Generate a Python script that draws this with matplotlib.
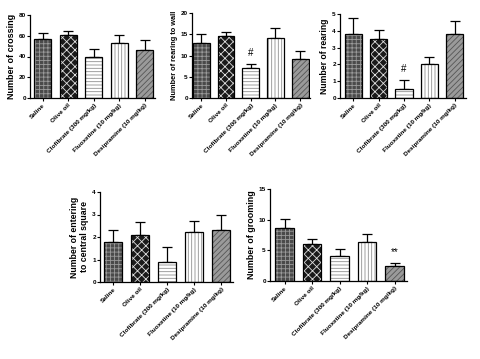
import matplotlib
matplotlib.use("Agg")
import matplotlib.pyplot as plt

plt.rcParams['font.family'] = ['Liberation Sans', 'DejaVu Sans']
plt.rcParams['font.weight'] = 'bold'
plt.rcParams['hatch.linewidth'] = 0.6

groups = ["Saline", "Olive oil", "Clofibrate (300 mg/kg)", "Fluoxetine (10 mg/kg)", "Desipramine (10 mg/kg)"]

crossing_mean = [57, 60.5, 40, 53, 46]
crossing_sem = [6, 4.5, 7.5, 7.5, 10]
rear_wall_mean = [13, 14.7, 7, 14.2, 9.2]
rear_wall_sem = [2.1, 0.9, 1.1, 2.2, 1.9]
rearing_mean = [3.8, 3.5, 0.55, 2.0, 3.8]
rearing_sem = [0.95, 0.55, 0.55, 0.45, 0.8]
central_mean = [1.78, 2.1, 0.9, 2.22, 2.33]
central_sem = [0.55, 0.55, 0.67, 0.51, 0.64]
grooming_mean = [8.6, 6.1, 4.1, 6.3, 2.4]
grooming_sem = [1.5, 0.7, 1.1, 1.3, 0.6]

styles = [
    dict(face='#4a4a4a', hatch='++++', hc='#9a9a9a'),
    dict(face='#1a1a1a', hatch='xxxx', hc='#e0e0e0'),
    dict(face='#ffffff', hatch='-----', hc='#909090'),
    dict(face='#ffffff', hatch='|||||', hc='#909090'),
    dict(face='#9a9a9a', hatch='//////', hc='#555555'),
]

panels = [
    dict(rect=[30/480, 1-98/359, 125/480, 83/359], mean=crossing_mean, sem=crossing_sem,
         ylim=(0, 80), yticks=[0, 20, 40, 60, 80], xlim=(-0.5, 4.4),
         label="Number of crossing", lfs=6.5, marks={}),
    dict(rect=[192/480, 1-98/359, 118/480, 85/359], mean=rear_wall_mean, sem=rear_wall_sem,
         ylim=(0, 20), yticks=[0, 5, 10, 15, 20], xlim=(-0.38, 4.4),
         label="Number of rearing to wall", lfs=5.3, marks={2: '#'}),
    dict(rect=[340/480, 1-98/359, 126/480, 84/359], mean=rearing_mean, sem=rearing_sem,
         ylim=(0, 5), yticks=[0, 1, 2, 3, 4, 5], xlim=(-0.53, 4.45),
         label="Number of rearing", lfs=6.2, marks={2: '#'}),
    dict(rect=[100/480, 1-282/359, 133/480, 90/359], mean=central_mean, sem=central_sem,
         ylim=(0, 4), yticks=[0, 1, 2, 3, 4], xlim=(-0.48, 4.44),
         label="Number of entering\nto central square", lfs=6.3, marks={}),
    dict(rect=[270/480, 1-281/359, 137/480, 92/359], mean=grooming_mean, sem=grooming_sem,
         ylim=(0, 15), yticks=[0, 5, 10, 15], xlim=(-0.53, 4.45),
         label="Number of grooming", lfs=6.4, marks={4: '**'}),
]

fig = plt.figure(figsize=(4.8, 3.59), dpi=100)
for p in panels:
    ax = fig.add_axes(p['rect'])
    x = list(range(len(groups)))
    for i, (m, s) in enumerate(zip(p['mean'], p['sem'])):
        st = styles[i]
        ax.bar(i, m, width=0.68, color=st['face'], hatch=st['hatch'], edgecolor=st['hc'],
               linewidth=0, zorder=2)
        ax.bar(i, m, width=0.68, fill=False, edgecolor='black', linewidth=0.9, zorder=3)
        ax.errorbar(i, m, yerr=[[0], [s]], fmt='none', ecolor='black', elinewidth=0.9,
                    capsize=3.5, capthick=0.9, zorder=1)
        if i in p['marks']:
            ax.text(i, m + s + (p['ylim'][1] * 0.06), p['marks'][i], ha='center', va='bottom',
                    fontsize=7, fontweight='normal')
    ax.set_xlim(*p['xlim'])
    ax.set_ylim(*p['ylim'])
    ax.set_yticks(p['yticks'])
    ax.set_xticks(x)
    ax.set_xticklabels(groups, rotation=45, ha='right', rotation_mode='anchor', fontsize=4.6)
    ax.tick_params(axis='y', labelsize=4.6, length=2, width=0.8, pad=1)
    ax.tick_params(axis='x', length=2, width=0.8, pad=1.5)
    for sp in ['top', 'right']:
        ax.spines[sp].set_visible(False)
    for sp in ['left', 'bottom']:
        ax.spines[sp].set_linewidth(0.9)
    ax.set_ylabel(p['label'], fontsize=p['lfs'], fontweight='bold', labelpad=2)

fig.savefig("out.png", dpi=100)
